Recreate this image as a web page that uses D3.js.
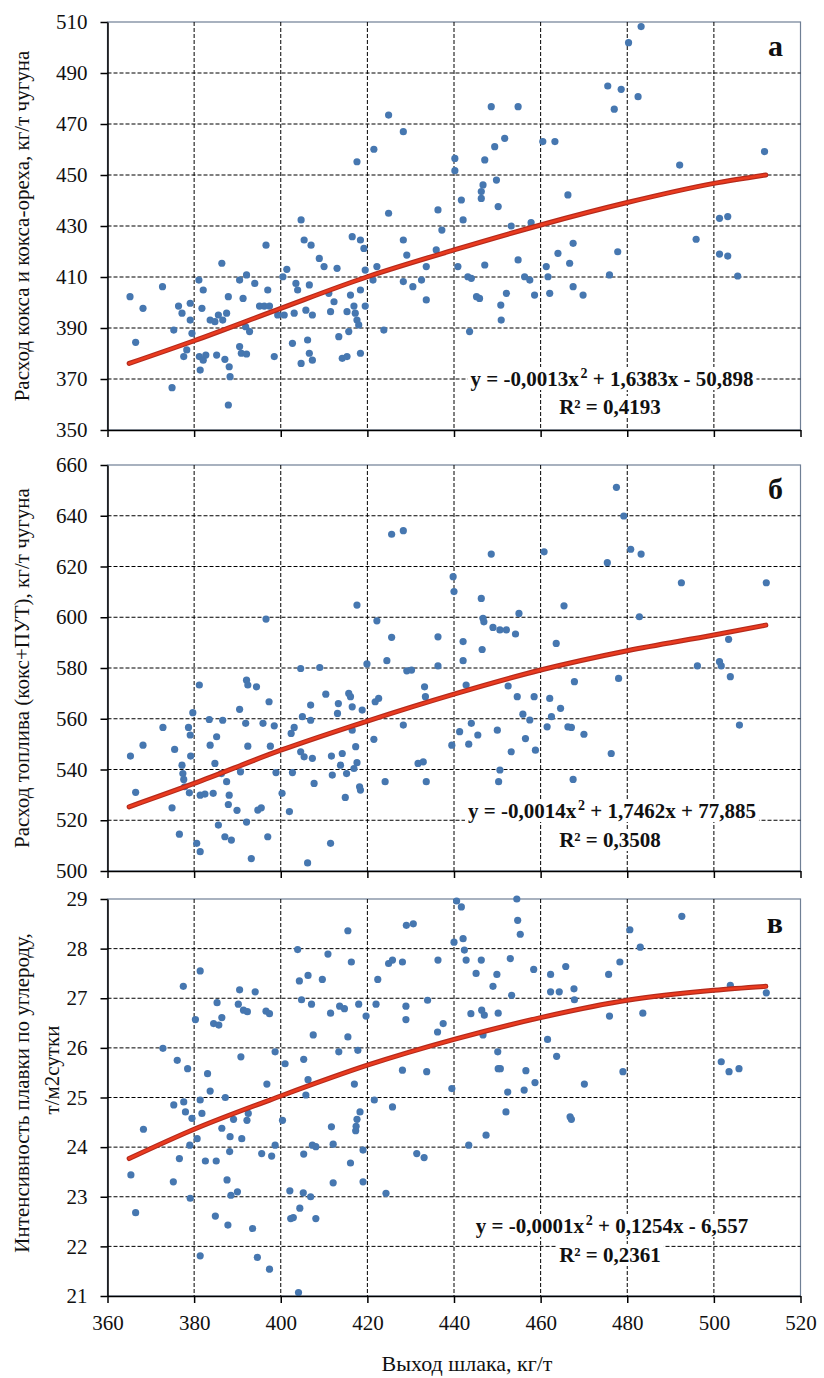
<!DOCTYPE html>
<html>
<head>
<meta charset="utf-8">
<script src="https://cdn.jsdelivr.net/npm/d3@7/dist/d3.min.js"></script>
<style>
  body { margin: 0; background: #fff; }
  text { font-family: "Liberation Serif", "Times New Roman", serif; fill: #111; }
</style>
</head>
<body>
<script>
// --- data ---
var xTicks = [360, 380, 400, 420, 440, 460, 480, 500, 520];
var ticksA = [350, 370, 390, 410, 430, 450, 470, 490, 510];
var ticksB = [500, 520, 540, 560, 580, 600, 620, 640, 660];
var ticksC = [21, 22, 23, 24, 25, 26, 27, 28, 29];

// (а) выход шлака, расход кокса
var pointsA = [
  [365.2,402.3],[366.5,384.4],[368.2,397.7],[372.7,406.2],[374.9,366.6],[375.3,389.2],[376.4,398.6],
  [377.2,395.8],[377.6,378.8],[378.3,381.4],[379.1,399.7],[379.1,393.1],[379.5,387.9],[381.1,408.8],
  [381.8,397.7],[382.1,404.9],[381.2,378.8],[381.4,373.5],[382.1,377.4],[382.7,379.4],[383.7,393.1],
  [384.8,392.5],[385.6,395.1],[386.4,415.4],[386.6,393.1],[387.5,395.8],[385.2,379.4],[387.1,377.7],
  [387.9,402.3],[388.1,374.8],[388.3,370.9],[387.9,359.8],[390.5,408.8],[391.3,401.6],[392.1,410.8],
  [391.9,390.5],[392.8,388.6],[390.5,382.7],[390.9,380.1],[392.1,379.8],[394.0,407.5],[395.1,398.6],
  [396.2,398.6],[396.6,422.5],[397.0,404.9],[397.4,398.6],[398.5,378.8],[399.3,395.1],[400.5,410.1],
  [400.8,395.1],[401.4,413.0],[402.7,384.0],[403.1,395.8],[403.5,407.5],[403.9,404.9],[404.7,432.4],
  [404.7,376.1],[405.4,424.5],[405.8,397.0],[406.6,406.9],[407.0,422.5],[407.3,395.1],[406.2,385.3],
  [406.6,380.1],[407.3,377.4],[408.9,417.3],[410.0,414.1],[411.1,403.6],[411.5,396.4],[412.3,400.3],
  [413.0,413.4],[413.4,386.6],[414.2,378.1],[415.3,378.8],[415.3,396.4],[415.7,388.6],[416.1,402.9],
  [416.5,425.8],[416.9,398.6],[417.2,395.8],[417.6,455.2],[417.6,393.1],[418.0,391.2],[418.4,424.5],
  [418.4,404.9],[418.4,380.1],[419.2,421.2],[419.5,412.7],[419.5,398.6],[421.3,408.8],[421.5,460.1],
  [422.2,414.1],[423.8,389.2],[424.9,473.5],[424.9,435.0],[428.3,467.0],[428.3,424.5],[428.3,408.2],
  [429.1,418.6],[430.5,406.2],[432.5,408.8],[433.6,414.1],[433.6,401.0],[436.3,436.3],[437.2,428.4],
  [435.9,420.6],[440.2,456.5],[440.2,451.7],[440.9,414.1],[441.7,440.2],[442.1,432.4],[443.2,410.1],
  [444.0,409.5],[443.6,388.6],[445.2,402.3],[445.9,401.6],[446.7,446.1],[446.3,443.5],[446.3,440.8],
  [447.1,455.9],[447.1,414.7],[448.6,476.8],[449.4,461.1],[449.8,448.0],[450.2,437.6],[450.8,399.0],
  [450.9,393.1],[452.1,403.6],[451.7,464.4],[453.2,430.0],[454.8,476.8],[454.8,416.7],[456.3,410.1],
  [457.5,408.8],[457.8,431.3],[458.6,402.9],[460.5,463.1],[461.3,414.1],[462.1,403.6],[461.7,410.1],
  [463.3,463.1],[464.0,419.3],[466.3,442.2],[466.7,415.4],[467.5,423.2],[467.5,406.2],[469.8,402.9],
  [475.5,484.9],[475.9,410.8],[477.0,475.8],[477.8,419.9],[478.6,483.6],[480.3,501.9],[482.5,480.7],
  [483.2,508.2],[492.1,453.9],[495.9,424.8],[501.3,433.0],[503.2,433.7],[501.3,419.0],[503.2,418.2],
  [505.5,410.4],[511.7,459.2]
];

// (б) выход шлака, расход топлива
var pointsB = [
  [365.3,545.3],[366.5,531.0],[368.2,549.6],[372.8,556.6],[374.9,524.9],[375.5,547.9],[376.6,514.5],
  [377.2,541.7],[377.4,538.4],[377.6,536.1],[377.8,533.2],[378.7,556.6],[379.1,553.6],[379.7,562.4],
  [379.2,545.3],[378.9,530.8],[380.6,510.9],[381.4,507.6],[381.2,573.3],[381.4,529.9],[382.5,530.3],
  [383.5,559.7],[383.7,549.6],[384.4,530.6],[384.8,542.4],[385.2,552.9],[385.6,518.1],[386.3,538.4],
  [386.6,559.4],[387.1,513.5],[387.5,535.2],[387.9,526.2],[388.1,529.9],[388.6,512.2],[389.9,523.9],
  [390.5,563.7],[390.7,539.1],[391.9,558.2],[392.1,575.2],[392.4,573.3],[392.1,519.3],[392.4,549.2],
  [393.2,504.9],[394.4,572.6],[394.7,524.0],[395.5,524.9],[395.9,558.2],[396.6,599.3],[397.0,513.5],
  [397.3,566.7],[397.6,549.2],[398.5,557.2],[398.9,538.8],[400.3,530.6],[402.0,523.4],[402.4,554.2],
  [402.7,538.8],[403.1,556.6],[404.6,579.8],[404.6,547.0],[405.0,560.8],[405.4,545.0],[406.2,503.2],
  [406.9,565.4],[406.9,559.4],[407.3,544.4],[407.7,534.5],[409.0,580.2],[410.4,569.7],[411.5,510.9],
  [411.7,545.3],[411.9,537.8],[413.1,562.1],[413.3,566.0],[413.8,541.7],[414.2,546.3],[414.9,529.0],
  [415.2,538.4],[415.7,570.0],[416.1,568.7],[416.5,564.7],[416.5,555.5],[416.9,540.4],[417.6,604.8],
  [417.3,549.0],[417.6,542.7],[418.2,533.2],[418.4,531.9],[418.8,563.4],[419.9,581.6],[421.5,551.9],
  [421.8,566.7],[422.6,568.0],[422.2,598.6],[424.1,535.2],[424.5,582.9],[425.6,592.1],[425.6,632.7],
  [428.3,634.1],[428.3,557.5],[429.1,578.9],[430.2,579.2],[431.7,542.4],[432.9,543.0],[433.6,535.2],
  [433.2,572.6],[433.4,568.7],[436.3,592.3],[436.3,580.8],[439.8,616.0],[440.0,610.1],[439.5,549.6],
  [441.3,554.9],[442.1,590.4],[442.1,582.9],[442.8,573.3],[443.4,550.0],[444.0,558.2],[445.5,553.6],
  [446.3,607.4],[446.5,587.3],[446.7,599.6],[446.9,598.2],[448.6,624.9],[449.0,596.0],[450.0,555.5],
  [450.3,535.2],[450.6,595.0],[450.6,539.8],[452.1,595.0],[452.5,572.9],[453.2,547.0],[454.2,593.4],
  [454.6,568.7],[455.0,601.5],[455.9,561.8],[456.5,552.2],[457.5,559.5],[458.5,568.7],[458.8,547.6],
  [460.8,625.8],[461.5,556.8],[462.1,568.0],[462.5,560.8],[463.6,589.7],[464.6,564.1],[465.4,604.5],
  [466.3,556.8],[467.1,556.6],[467.5,536.1],[467.8,574.6],[470.0,553.9],[475.4,621.5],[476.3,546.3],
  [477.5,651.2],[478.0,575.9],[479.2,639.9],[480.8,626.8],[483.2,624.9],[482.8,600.2],[492.5,613.6],
  [496.2,580.8],[501.3,582.5],[501.7,580.8],[503.4,591.3],[503.8,576.6],[505.9,557.5],[512.1,613.6]
];

// (в) выход шлака, интенсивность плавки
var pointsC = [
  [365.4,23.44],[366.5,22.68],[368.3,24.36],[372.8,25.99],[376.1,25.75],[375.2,23.30],[375.3,24.85],
  [376.6,23.77],[377.5,27.24],[377.6,24.91],[378.0,24.71],[378.5,25.58],[379.1,22.97],[379.0,24.04],
  [379.5,24.58],[380.3,26.57],[380.7,24.17],[381.4,27.55],[381.4,21.81],[381.4,24.95],[381.8,24.68],
  [382.6,23.72],[383.1,25.48],[383.7,25.13],[384.5,26.49],[384.9,22.61],[385.1,23.72],[385.3,26.91],
  [385.7,26.46],[386.4,26.61],[386.4,24.38],[387.2,25.00],[387.6,23.34],[387.8,22.43],[388.2,23.91],
  [388.5,23.03],[388.3,24.21],[389.1,24.56],[390.0,23.10],[390.5,27.17],[390.2,26.88],[390.8,25.82],
  [391.0,24.17],[391.4,26.76],[392.3,26.73],[392.2,24.54],[392.5,24.68],[393.5,22.36],[394.1,27.13],
  [394.6,21.78],[395.6,23.87],[396.6,26.74],[396.8,25.27],[397.4,26.69],[397.4,21.54],[397.9,23.82],
  [398.7,25.92],[398.7,24.04],[400.4,24.54],[401.0,25.68],[402.1,23.12],[402.3,22.56],[402.9,22.58],
  [403.9,27.98],[404.1,21.07],[404.3,27.35],[404.4,22.77],[404.8,26.97],[405.2,23.08],[405.3,25.77],
  [405.3,23.86],[405.8,25.05],[406.3,27.46],[406.3,25.36],[406.9,23.00],[407.1,26.88],[407.3,24.04],
  [407.5,26.26],[408.1,24.01],[408.1,22.56],[409.6,27.38],[410.9,27.89],[411.5,26.70],[411.7,24.41],
  [412.1,23.28],[412.1,24.06],[413.4,25.92],[413.6,26.84],[414.7,26.79],[415.5,28.36],[415.5,26.22],
  [416.1,23.68],[416.3,27.73],[417.0,25.27],[417.3,24.33],[417.4,24.42],[417.6,24.56],[418.0,26.88],
  [417.8,25.95],[418.3,24.71],[419.0,23.94],[419.0,23.30],[419.7,26.64],[421.6,24.95],[422.0,26.88],
  [422.4,27.38],[424.3,23.07],[424.9,27.70],[425.8,27.77],[425.8,24.81],[428.1,27.73],[428.1,25.55],
  [429.0,28.47],[428.9,26.84],[428.9,26.57],[430.6,28.50],[433.9,26.96],[433.7,25.52],[436.2,26.32],
  [436.3,27.77],[437.5,26.49],[431.4,23.87],[433.1,23.79],[439.5,25.18],[440.0,28.13],[440.6,28.96],
  [441.7,28.84],[442.1,28.20],[442.4,27.97],[442.8,27.77],[443.4,24.04],[443.9,26.69],[445.1,27.50],
  [446.3,27.77],[446.4,26.76],[447.0,26.66],[447.4,24.24],[446.7,26.26],[449.0,27.24],[449.9,27.48],
  [450.2,26.70],[450.1,25.92],[450.2,25.58],[450.7,25.58],[452.0,24.71],[452.4,25.11],[453.0,27.80],
  [453.3,27.06],[454.5,29.00],[454.7,28.57],[455.3,28.29],[456.6,25.54],[456.2,25.15],[458.4,27.58],
  [458.7,25.30],[461.6,26.17],[462.3,27.48],[462.3,27.13],[463.7,25.83],[464.3,27.13],[465.8,27.64],
  [466.8,24.61],[467.1,24.56],[467.7,27.19],[467.8,26.97],[470.1,25.27],[475.7,27.48],[475.9,26.64],
  [478.3,27.73],[479.0,25.52],[480.6,28.38],[483.0,28.03],[483.6,26.70],[492.6,28.65],[501.7,25.72],
  [503.5,25.52],[505.8,25.58],[503.8,27.26],[512.1,27.11]
];

// trend lines (polynomial, 2nd order)
var trendX = [365, 380, 400, 420, 440, 460, 480, 500, 512];
var trendA = [376.1, 385.0, 397.7, 410.1, 420.6, 430.4, 439.2, 446.7, 450.0];
var trendB = [525.3, 534.5, 547.6, 559.1, 569.7, 579.2, 586.8, 593.0, 596.9];
var trendC = [23.77, 24.36, 25.03, 25.65, 26.17, 26.61, 26.96, 27.16, 27.24];

var eqA = ["y = -0,0013x", "2", "+ 1,6383x - 50,898", "R² = 0,4193"];
var eqB = ["y = -0,0014x", "2", "+ 1,7462x + 77,885", "R² = 0,3508"];
var eqC = ["y = -0,0001x", "2", "+ 0,1254x - 6,557", "R² = 0,2361"];

// --- layout ---
var width = 824, height = 1378;
var left = 107.5, right = 800.5;

var svg = d3.select("body").append("svg")
  .attr("width", width).attr("height", height);

var x = d3.scaleLinear().domain([360, 520]).range([left, right]);

var panels = [
  { pts: pointsA, trend: trendA, ticks: ticksA, eq: eqA, top: 22, bottom: 430, label: "а",
    eqY: 386, r2Y: 414, title: ["Расход кокса и кокса-ореха, кг/т чугуна"], titleX: [22], titleY: [226] },
  { pts: pointsB, trend: trendB, ticks: ticksB, eq: eqB, top: 465, bottom: 871, label: "б",
    eqY: 818, r2Y: 847, title: ["Расход топлива (кокс+ПУТ), кг/т чугуна"], titleX: [22], titleY: [668] },
  { pts: pointsC, trend: trendC, ticks: ticksC, eq: eqC, top: 899, bottom: 1296, label: "в",
    eqY: 1233, r2Y: 1262, title: ["Интенсивность плавки по углероду,", "т/м2сутки"], titleX: [22, 52], titleY: [1093, 1070] }
];

panels.forEach(function(p, i) {
  var y = d3.scaleLinear()
    .domain([p.ticks[0], p.ticks[p.ticks.length - 1]])
    .range([p.bottom, p.top]);
  var g = svg.append("g");

  // plot area border
  g.append("rect")
    .attr("x", left).attr("y", p.top)
    .attr("width", right - left).attr("height", p.bottom - p.top)
    .attr("fill", "#fff").attr("stroke", "#6f7f95").attr("stroke-width", 1.2);

  // dashed grid
  g.append("g").selectAll("line")
    .data(p.ticks.slice(1, -1))
    .enter().append("line")
    .attr("x1", left).attr("x2", right)
    .attr("y1", function(d) { return y(d); })
    .attr("y2", function(d) { return y(d); })
    .attr("stroke", "#000").attr("stroke-width", 1).attr("stroke-dasharray", "4,2");
  g.append("g").selectAll("line")
    .data(xTicks.slice(1, -1))
    .enter().append("line")
    .attr("y1", p.top).attr("y2", p.bottom)
    .attr("x1", function(d) { return x(d); })
    .attr("x2", function(d) { return x(d); })
    .attr("stroke", "#000").attr("stroke-width", 1).attr("stroke-dasharray", "4,2");

  // points
  g.append("g").selectAll("circle")
    .data(p.pts)
    .enter().append("circle")
    .attr("cx", function(d) { return x(d[0]); })
    .attr("cy", function(d) { return y(d[1]); })
    .attr("r", 3.6)
    .attr("fill", "#4677b0");

  // trend line
  var line = d3.line()
    .x(function(d, k) { return x(trendX[k]); })
    .y(function(d) { return y(d); })
    .curve(d3.curveMonotoneX);
  g.append("path").datum(p.trend)
    .attr("d", line)
    .attr("fill", "none").attr("stroke", "#b52a1c").attr("stroke-width", 5)
    .attr("stroke-linecap", "round");
  g.append("path").datum(p.trend)
    .attr("d", line)
    .attr("fill", "none").attr("stroke", "#ea3b1f").attr("stroke-width", 2.6)
    .attr("stroke-linecap", "round");

  // equation with white background
  var eqG = g.append("g");
  var t1 = eqG.append("text")
    .attr("x", 612).attr("y", p.eqY)
    .attr("text-anchor", "middle")
    .style("font-size", "21px").style("font-weight", "bold");
  t1.append("tspan").text(p.eq[0] + "\u200a");
  t1.append("tspan").attr("dy", -8).style("font-size", "14px").text(p.eq[1]);
  t1.append("tspan").attr("dy", 8).text(" " + p.eq[2]);
  var t2 = eqG.append("text")
    .attr("x", 610).attr("y", p.r2Y)
    .attr("text-anchor", "middle")
    .style("font-size", "21px").style("font-weight", "bold")
    .text(p.eq[3]);
  [t1, t2].forEach(function(t) {
    var b = t.node().getBBox();
    eqG.insert("rect", "text")
      .attr("x", b.x - 3).attr("y", b.y + 1)
      .attr("width", b.width + 6).attr("height", b.height - 2)
      .attr("fill", "#fff");
  });

  // panel letter
  g.append("text")
    .attr("x", 783).attr("y", p.top + 34)
    .attr("text-anchor", "end")
    .style("font-size", "30px").style("font-weight", "bold")
    .text(p.label);

  // axes
  var axisY = d3.axisLeft(y).tickValues(p.ticks).tickSize(7).tickSizeOuter(0).tickPadding(13);
  var gy = g.append("g")
    .attr("transform", "translate(" + left + ",0)")
    .call(axisY);
  gy.selectAll("text").style("font-size", "21px")
    .style("font-family", "Liberation Serif, serif").attr("fill", "#222");
  gy.selectAll("line, path").attr("stroke", "#000").attr("stroke-width", 1.5);

  var axisX = d3.axisBottom(x).tickValues(xTicks).tickSize(7).tickSizeOuter(0).tickPadding(12);
  if (i < panels.length - 1) axisX.tickFormat("");
  var gx = g.append("g")
    .attr("transform", "translate(0," + p.bottom + ")")
    .call(axisX);
  gx.selectAll("text").style("font-size", "21px")
    .style("font-family", "Liberation Serif, serif").attr("fill", "#222");
  gx.selectAll("line, path").attr("stroke", "#000").attr("stroke-width", 1.5);

  // y axis title
  p.title.forEach(function(s, k) {
    g.append("text")
      .attr("transform", "translate(" + p.titleX[k] + "," + p.titleY[k] + ") rotate(-90)")
      .attr("text-anchor", "middle")
      .attr("dy", "0.35em")
      .style("font-size", "21px")
      .text(s);
  });
});

// x axis title
svg.append("text")
  .attr("x", 467).attr("y", 1371)
  .attr("text-anchor", "middle")
  .style("font-size", "22px")
  .text("Выход шлака, кг/т");
</script>
</body>
</html>
